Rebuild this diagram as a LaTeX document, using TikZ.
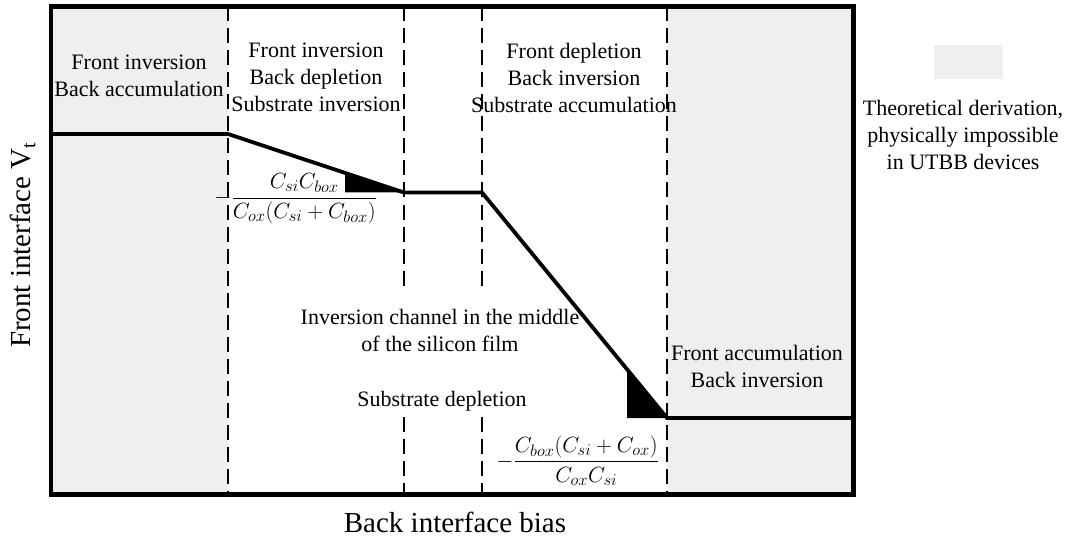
\RequirePackage{fix-cm}
\documentclass[tikz,border=0pt]{standalone}
\usepackage{fontspec}
\setmainfont{Liberation Serif}
\DeclareMathSizes{22}{22}{16.5}{12.5}
\definecolor{regiongrey}{RGB}{239,239,239}
\begin{document}
\begin{tikzpicture}[x=1pt,y=-1pt,
  frame/.style={line width=4.5pt},
  vtcurve/.style={line width=3.8pt, line join=miter},
  divider/.style={line width=2.4pt, dash pattern=on 15pt off 7pt},
  txt/.style={font=\fontsize{22}{27}\selectfont, align=center, inner sep=0pt},
  axislabel/.style={font=\fontsize{29}{34}\selectfont, inner sep=0pt},
  formula/.style={font=\fontsize{22}{27}\selectfont, inner sep=0pt}]

\useasboundingbox (0,0) rectangle (1070,540);

% frame corners and region boundaries
\coordinate (tl) at (51,6.5);
\coordinate (br) at (853.5,494.5);

% shaded regions (physically impossible)
\fill[regiongrey] (51,6.5) rectangle (228,494.5);
\fill[regiongrey] (667,6.5) rectangle (853.5,494.5);

% region dividers
\draw[divider] (228,6.5) -- (228,494.5);
\draw[divider] (667,6.5) -- (667,494.5);
\draw[divider] (404,6.5) -- (404,292);
\draw[divider] (404,417) -- (404,494.5);
\draw[divider] (482,6.5) -- (482,292);
\draw[divider] (482,417) -- (482,494.5);

% threshold voltage curve
\coordinate (p0) at (51,134);
\coordinate (p1) at (228,134);
\coordinate (p2) at (404,192.5);
\coordinate (p3) at (482,192.5);
\coordinate (p4) at (667,418);
\coordinate (p5) at (853.5,418);
\draw[vtcurve] (p0) -- (p1) -- (p2) -- (p3) -- (p4) -- (p5);

% slope markers
\coordinate (s1a) at (345,172.9);
\coordinate (s1b) at (345,192.5);
\fill (s1a) -- (s1b) -- (p2) -- cycle;
\coordinate (s2a) at (627,369.2);
\coordinate (s2b) at (627,418);
\fill (s2a) -- (s2b) -- (p4) -- cycle;

% outer frame
\draw[frame] (tl) rectangle (br);

% region labels
\node[txt] (r1) at (139,76) {Front inversion\\Back accumulation};
\node[txt] (r2) at (316,77) {Front inversion\\Back depletion\\Substrate inversion};
\node[txt] (r3) at (574,78) {Front depletion\\Back inversion\\Substrate accumulation};
\node[txt] (r4) at (440,330) {Inversion channel in the middle\\of the silicon film};
\node[txt] (r5) at (442,401) {Substrate depletion};
\node[txt] (r6) at (757,366) {Front accumulation\\Back inversion};

% slopes
\node[formula, anchor=base east] (f1) at (377,203.5)
  {$-\displaystyle\frac{C_{si}C_{box}}{C_{ox}(C_{si}+C_{box})}$};
\node[formula, anchor=base east] (f2) at (659,467)
  {$-\displaystyle\frac{C_{box}(C_{si}+C_{ox})}{C_{ox}C_{si}}$};

% legend
\fill[regiongrey] (934,45) rectangle (1003,79);
\node[txt] (leg) at (963,135) {Theoretical derivation,\\physically impossible\\in UTBB devices};

% axis labels
\node[axislabel] (xl) at (455,522) {Back interface bias};
\node[axislabel, rotate=90] (yl) at (23,245) {Front interface V\textsubscript{t}};
\end{tikzpicture}
\end{document}
